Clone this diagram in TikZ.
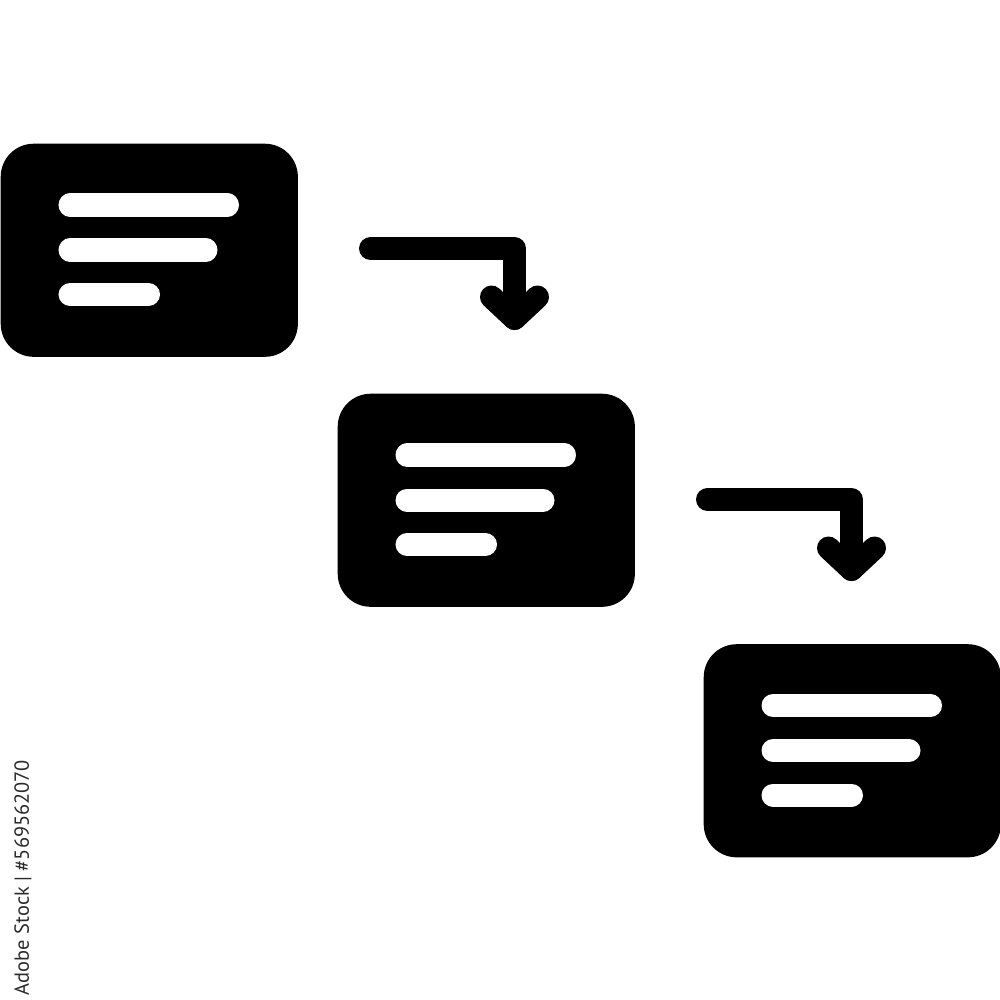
\documentclass[tikz,border=0pt]{standalone}
\usepackage{fontspec}
\setmainfont{PT Sans}
\definecolor{wmgray}{HTML}{2A2A2A}
\tikzset{
  card/.style={fill=black, draw=none, rounded corners=0.33cm, minimum width=2.97cm, minimum height=2.13cm, inner sep=0pt, anchor=north west},
  bar/.style={draw=white, line width=0.23cm, line cap=round},
  bentarrow/.style={draw=black, line width=0.23cm, line cap=round, line join=round},
  idtext/.style={text=wmgray, font=\fontsize{6.3pt}{7pt}\selectfont, rotate=90, inner sep=0pt}
}
\newcommand{\cardbars}[1]{%
  \draw[bar] ([shift={(70,62)}]#1.north west) -- ([shift={(227.5,62)}]#1.north west);
  \draw[bar] ([shift={(70,107)}]#1.north west) -- ([shift={(206,107)}]#1.north west);
  \draw[bar] ([shift={(70,151.5)}]#1.north west) -- ([shift={(148.5,151.5)}]#1.north west);
}
\begin{document}
\begin{tikzpicture}[x=0.01cm,y=-0.01cm]
\useasboundingbox[fill=white] (0,0) rectangle (1000,1000);
% cards
\node[card] (c1) at (0,143) {};
\node[card] (c2) at (337,393) {};
\node[card] (c3) at (703,643.5) {};
\cardbars{c1}
\cardbars{c2}
\cardbars{c3}
% arrow 1
\coordinate (a1s) at (370.5,248.5);
\coordinate (a1c) at (514.5,248.5);
\coordinate (a1t) at (514.5,318.5);
\coordinate (a1l) at (491.5,297);
\coordinate (a1r) at (537.5,297);
\draw[bentarrow] (a1s) -- (a1c) -- (a1t);
\draw[bentarrow] (a1l) -- (a1t) -- (a1r);
% arrow 2
\coordinate (a2s) at (707.5,499.5);
\coordinate (a2c) at (851.5,499.5);
\coordinate (a2t) at (851.5,569.5);
\coordinate (a2l) at (828.5,548);
\coordinate (a2r) at (874.5,548);
\draw[bentarrow] (a2s) -- (a2c) -- (a2t);
\draw[bentarrow] (a2l) -- (a2t) -- (a2r);
% vertical id
\node[idtext] (id) at (23,877.5) {\resizebox{2.35cm}{!}{Adobe Stock | \#569562070}};
\end{tikzpicture}
\end{document}
